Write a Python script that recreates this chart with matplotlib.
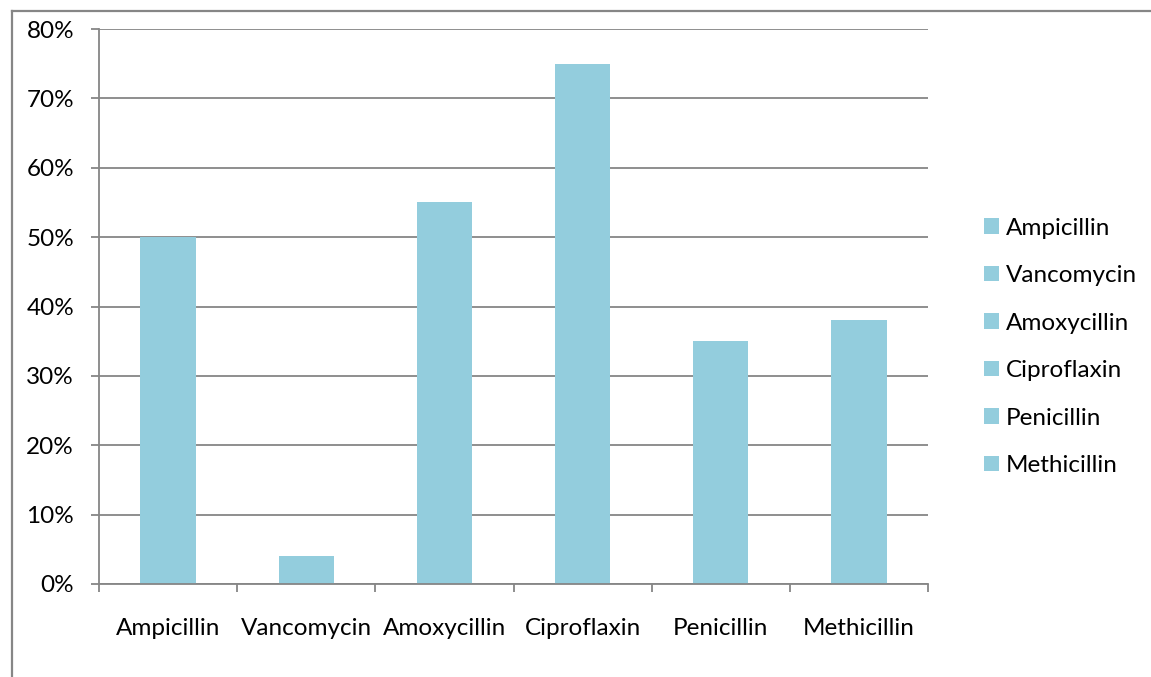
import matplotlib.pyplot as plt
from matplotlib.patches import Patch
from matplotlib.lines import Line2D
from matplotlib.ticker import PercentFormatter

drugs = ['Ampicillin', 'Vancomycin', 'Amoxycillin', 'Ciproflaxin', 'Penicillin', 'Methicillin']
resistance = [50, 4, 55, 75, 35, 38]
yticks = [0, 10, 20, 30, 40, 50, 60, 70, 80]

bar_color = '#93CDDD'
grid_color = '#868686'
fs = 17.5

plt.rcParams['font.family'] = ['Lato', 'DejaVu Sans']

fig = plt.figure(figsize=(11.51, 6.77), dpi=100)
ax = fig.add_axes([99 / 1151, 1 - 584 / 677, (928 - 99) / 1151, (584 - 29) / 677])

x = range(len(drugs))
ax.bar(x, resistance, width=0.4, color=bar_color, zorder=2)

ax.set_xlim(-0.5, len(drugs) - 0.5)
ax.set_ylim(0, 80)
ax.set_yticks(yticks)
ax.yaxis.set_major_formatter(PercentFormatter(decimals=0))
ax.grid(axis='y', color=grid_color, linewidth=1.3, zorder=1)

# category labels in the middle, tick marks on the boundaries
ax.set_xticks(list(x))
ax.set_xticklabels(drugs)
ax.set_xticks([i - 0.5 for i in range(len(drugs) + 1)], minor=True)
ax.tick_params(axis='x', which='major', length=0, pad=24.5, labelsize=fs)
ax.tick_params(axis='x', which='minor', length=6, width=1.3, color=grid_color)
ax.tick_params(axis='y', length=6, width=1.3, color=grid_color, pad=12, labelsize=fs)

for side in ['top', 'right']:
    ax.spines[side].set_visible(False)
for side in ['left', 'bottom']:
    ax.spines[side].set_color(grid_color)
    ax.spines[side].set_linewidth(1.3)

handles = [Patch(facecolor=bar_color, edgecolor='none') for _ in drugs]
fig.legend(handles, drugs, loc='center left', bbox_to_anchor=(984 / 1151, 1 - 347 / 677),
           frameon=False, fontsize=fs, handlelength=0.6, handleheight=0.6,
           handletextpad=0.3, labelspacing=1.09, borderpad=0, borderaxespad=0)

# chart area border (left and top edges)
fig.add_artist(Line2D([12 / 1151, 12 / 1151], [0, 1 - 11 / 677], color=grid_color,
                      linewidth=1.6, transform=fig.transFigure))
fig.add_artist(Line2D([12 / 1151, 1], [1 - 11 / 677, 1 - 11 / 677], color=grid_color,
                      linewidth=1.6, transform=fig.transFigure))

fig.savefig('out.png', dpi=100)
